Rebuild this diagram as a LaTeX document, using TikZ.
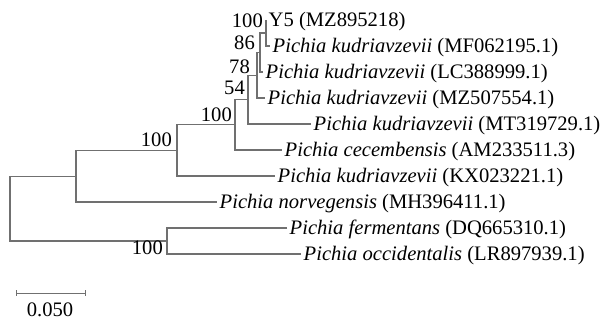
\documentclass[tikz,border=0pt]{standalone}
\usepackage{fontspec}
\setmainfont{Liberation Serif}
\definecolor{treegray}{RGB}{112,112,112}
\begin{document}
\begin{tikzpicture}[x=1pt,y=-1pt,
  branch/.style={draw=treegray, line width=1.1pt},
  taxon/.style={anchor=base west, inner sep=0pt, xshift=2.5pt, yshift=-6.9pt,
                font=\fontsize{20.6}{24}\selectfont},
  boot/.style={anchor=base east, inner sep=0pt, font=\fontsize{20.6}{24}\selectfont},
  scalelbl/.style={anchor=base, inner sep=0pt, font=\fontsize{20.6}{24}\selectfont}]
  % canvas
  \fill[white] (0,0) rectangle (610,320);
  \useasboundingbox (0,0) rectangle (610,320);

  % leaf tips
  \coordinate (t1)  at (266,20);
  \coordinate (t2)  at (270,46);
  \coordinate (t3)  at (263,72);
  \coordinate (t4)  at (265,98);
  \coordinate (t5)  at (311,124);
  \coordinate (t6)  at (282,150);
  \coordinate (t7)  at (275,176);
  \coordinate (t8)  at (217,202);
  \coordinate (t9)  at (287,228);
  \coordinate (t10) at (301,254);

  % internal nodes
  \coordinate (A) at (266,33);
  \coordinate (B) at (260,52.5);
  \coordinate (C) at (257,75.25);
  \coordinate (D) at (248,99.6);
  \coordinate (E) at (235,124.8);
  \coordinate (F) at (177,150.4);
  \coordinate (G) at (76,176.2);
  \coordinate (H) at (167,241);
  \coordinate (R) at (10,208.6);

  % branches
  \draw[branch] (t1) -| (A) |- (t2);
  \draw[branch] (A) -| (B) |- (t3);
  \draw[branch] (B) -| (C) |- (t4);
  \draw[branch] (C) -| (D) |- (t5);
  \draw[branch] (D) -| (E) |- (t6);
  \draw[branch] (E) -| (F) |- (t7);
  \draw[branch] (F) -| (G) |- (t8);
  \draw[branch] (t9) -| (H) |- (t10);
  \draw[branch] (G) -| (R) |- (H);

  % taxon labels
  \node[taxon] (n1)  at (t1)  {Y5 (MZ895218)};
  \node[taxon] (n2)  at (t2)  {\textit{Pichia kudriavzevii} (MF062195.1)};
  \node[taxon] (n3)  at (t3)  {\textit{Pichia kudriavzevii} (LC388999.1)};
  \node[taxon] (n4)  at (t4)  {\textit{Pichia kudriavzevii} (MZ507554.1)};
  \node[taxon] (n5)  at (t5)  {\textit{Pichia kudriavzevii} (MT319729.1)};
  \node[taxon] (n6)  at (t6)  {\textit{Pichia cecembensis} (AM233511.3)};
  \node[taxon] (n7)  at (t7)  {\textit{Pichia kudriavzevii} (KX023221.1)};
  \node[taxon] (n8)  at (t8)  {\textit{Pichia norvegensis} (MH396411.1)};
  \node[taxon] (n9)  at (t9)  {\textit{Pichia fermentans} (DQ665310.1)};
  \node[taxon] (n10) at (t10) {\textit{Pichia occidentalis} (LR897939.1)};

  % bootstrap support
  \node[boot] (bA) at ([xshift=-3pt,yshift=5.4pt]A) {100};
  \node[boot] (bB) at ([xshift=-5pt,yshift=2.9pt]B) {86};
  \node[boot] (bC) at ([xshift=-7pt,yshift=1.6pt]C) {78};
  \node[boot] (bD) at ([xshift=-3pt,yshift=5pt]D) {54};
  \node[boot] (bE) at ([xshift=-3pt,yshift=3.2pt]E) {100};
  \node[boot] (bF) at ([xshift=-5pt,yshift=3.8pt]F) {100};
  \node[boot] (bH) at ([xshift=-4pt,yshift=-13.6pt]H) {100};

  % scale bar
  \coordinate (s1) at (16,293);
  \coordinate (s2) at (85,293);
  \draw[branch, line width=0.9pt] (s1) -- (s2);
  \draw[branch, line width=0.9pt] ([yshift=3pt]s1) -- ([yshift=-3pt]s1);
  \draw[branch, line width=0.9pt] ([yshift=3pt]s2) -- ([yshift=-3pt]s2);
  \node[scalelbl] (sl) at (50,316) {0.050};
\end{tikzpicture}
\end{document}
